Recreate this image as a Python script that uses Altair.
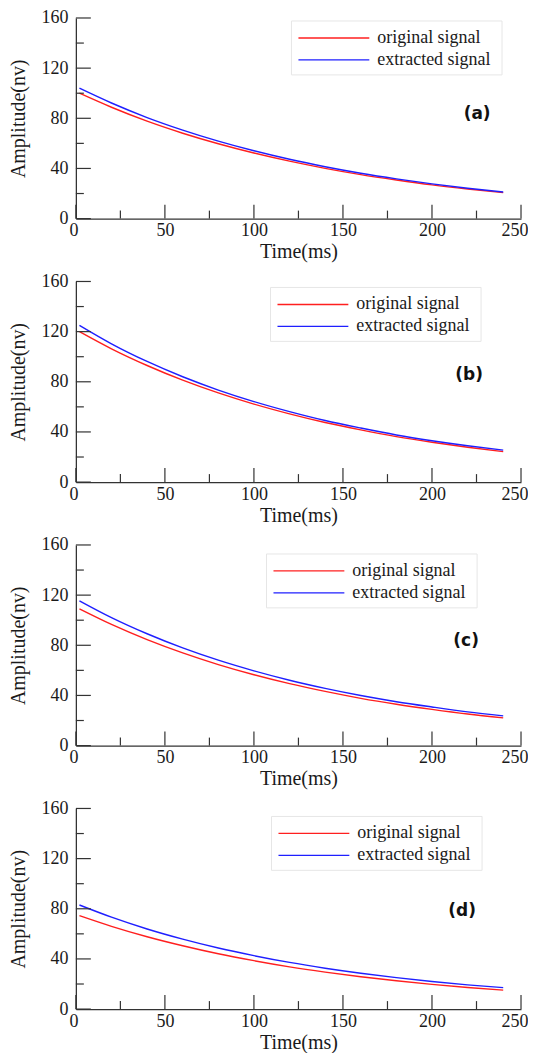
import altair as alt
import pandas as pd

# ---- data ----
time_ms = [2, 20, 40, 60, 80, 100, 120, 140, 160, 180, 200, 220, 240]

orig_a = [100.0, 88.8, 77.7, 68.1, 59.7, 52.3, 45.8, 40.1, 35.1, 30.8, 26.9, 23.6, 20.7]
extr_a = [104.0, 92.2, 80.6, 70.6, 61.8, 54.1, 47.3, 41.4, 36.2, 31.7, 27.7, 24.2, 21.2]

orig_b = [120.0, 106.3, 93.0, 81.3, 71.1, 62.2, 54.4, 47.5, 41.6, 36.3, 31.8, 27.8, 24.3]
extr_b = [125.0, 110.3, 96.2, 84.0, 73.4, 64.2, 56.2, 49.1, 43.1, 37.6, 33.0, 29.0, 25.5]

orig_c = [109.0, 96.6, 84.5, 73.9, 64.6, 56.5, 49.4, 43.2, 37.7, 33.0, 28.9, 25.2, 22.1]
extr_c = [115.5, 102.1, 89.2, 77.9, 68.1, 59.6, 52.1, 45.6, 39.9, 35.0, 30.8, 26.9, 23.7]

orig_d = [74.5, 66.0, 57.7, 50.5, 44.1, 38.6, 33.7, 29.5, 25.8, 22.6, 19.7, 17.2, 15.1]
extr_d = [83.0, 73.3, 63.9, 55.8, 48.7, 42.6, 37.2, 32.6, 28.6, 25.1, 22.0, 19.3, 17.1]

series_names = ["original signal", "extracted signal"]
panel_labels = ["(a)", "(b)", "(c)", "(d)"]

x_major = [0, 50, 100, 150, 200, 250]
x_minor = [25, 75, 125, 175, 225]
y_major = [0, 40, 80, 120, 160]
y_minor = [20, 60, 100, 140]

# ---- layout / style ----
W, H = 446, 201
SERIF = "Liberation Serif, Times New Roman, Times, DejaVu Serif, serif"
TXT = "#1a1a1a"
AX = "#333333"
RED = "#ff1f1f"
BLUE = "#1f1fff"
legend_pos = [(216, 3), (195, 6), (191, 9), (196, 8)]   # box left/top inside plot
legend_w, legend_h = 211, 54
label_pos = [(402, 96), (394, 94), (391, 96), (387, 103)]

x_scale = alt.Scale(domain=[0, 250], nice=False, zero=False)
y_scale = alt.Scale(domain=[0, 160], nice=False)
x_axis = alt.Axis(values=x_major, title="Time(ms)", ticks=False, grid=False,
                  labelFont=SERIF, titleFont=SERIF,
                  labelPadding=3, titlePadding=2, labelFlush=True, labelFlushOffset=7)
y_axis = alt.Axis(values=y_major, title="Amplitude(nv)", ticks=False, grid=False,
                  labelFont=SERIF, titleFont=SERIF,
                  labelPadding=8, titlePadding=12, labelFlush=False)

ticks_x_major = pd.DataFrame({"t": x_major})
ticks_x_minor = pd.DataFrame({"t": x_minor})
ticks_y_major = pd.DataFrame({"v": y_major})
ticks_y_minor = pd.DataFrame({"v": y_minor})


def one_row(text):
    return alt.Chart(pd.DataFrame({"s": [text]}))


def panel(orig, extr, label, lpos, tpos):
    df = pd.DataFrame({
        "t": time_ms + time_ms,
        "v": orig + extr,
        "s": [series_names[0]] * len(time_ms) + [series_names[1]] * len(time_ms),
    })
    lines = alt.Chart(df).mark_line(strokeWidth=1.4, interpolate="monotone").encode(
        x=alt.X("t:Q", scale=x_scale, axis=x_axis),
        y=alt.Y("v:Q", scale=y_scale, axis=y_axis),
        color=alt.Color("s:N", scale=alt.Scale(domain=series_names, range=[RED, BLUE]),
                        legend=None),
        order=alt.Order("t:Q"),
    )
    xt_major = alt.Chart(ticks_x_major).mark_rule(color=AX, strokeWidth=1.2).encode(
        x=alt.X("t:Q", scale=x_scale, axis=x_axis), y=alt.value(H), y2=alt.value(H - 14))
    xt_minor = alt.Chart(ticks_x_minor).mark_rule(color=AX, strokeWidth=1.2).encode(
        x=alt.X("t:Q", scale=x_scale, axis=x_axis), y=alt.value(H), y2=alt.value(H - 8))
    yt_major = alt.Chart(ticks_y_major).mark_rule(color=AX, strokeWidth=1.2).encode(
        y=alt.Y("v:Q", scale=y_scale, axis=y_axis), x=alt.value(0), x2=alt.value(15))
    yt_minor = alt.Chart(ticks_y_minor).mark_rule(color=AX, strokeWidth=1.2).encode(
        y=alt.Y("v:Q", scale=y_scale, axis=y_axis), x=alt.value(0), x2=alt.value(8))

    lx, ly = lpos
    box = one_row("box").mark_rect(fill="white", stroke="#e6e6e6", strokeWidth=1).encode(
        x=alt.value(lx), x2=alt.value(lx + legend_w),
        y=alt.value(ly), y2=alt.value(ly + legend_h))
    leg_layers = [box]
    for i, (name, col) in enumerate(zip(series_names, [RED, BLUE])):
        yy = ly + 17 + 22 * i
        leg_layers.append(one_row(name).mark_rule(color=col, strokeWidth=1.4).encode(
            x=alt.value(lx + 7), x2=alt.value(lx + 78), y=alt.value(yy)))
        leg_layers.append(one_row(name).mark_text(
            font=SERIF, fontSize=18, color=TXT, align="left", baseline="middle").encode(
            text="s:N", x=alt.value(lx + 86), y=alt.value(yy)))

    lab = one_row(label).mark_text(
        font="DejaVu Sans", fontWeight="bold", fontSize=17, color="#111111",
        align="center", baseline="middle",
    ).encode(text="s:N", x=alt.value(tpos[0]), y=alt.value(tpos[1]))
    return alt.layer(lines, xt_major, xt_minor, yt_major, yt_minor, *leg_layers, lab).properties(
        width=W, height=H)


panels = [
    panel(orig_a, extr_a, panel_labels[0], legend_pos[0], label_pos[0]),
    panel(orig_b, extr_b, panel_labels[1], legend_pos[1], label_pos[1]),
    panel(orig_c, extr_c, panel_labels[2], legend_pos[2], label_pos[2]),
    panel(orig_d, extr_d, panel_labels[3], legend_pos[3], label_pos[3]),
]

chart = alt.vconcat(*panels, spacing=63, bounds="flush").properties(
    padding={"left": 1, "top": 0, "right": 0, "bottom": 0},
    background="white",
).configure_view(stroke=None).configure_axis(
    labelFont=SERIF, labelFontSize=18, labelColor=TXT,
    titleFont=SERIF, titleFontSize=20, titleFontWeight="normal", titleColor=TXT,
    domainColor=AX, domainWidth=1.3,
)

chart.save("out.html", embed_options={"renderer": "svg", "actions": False})
